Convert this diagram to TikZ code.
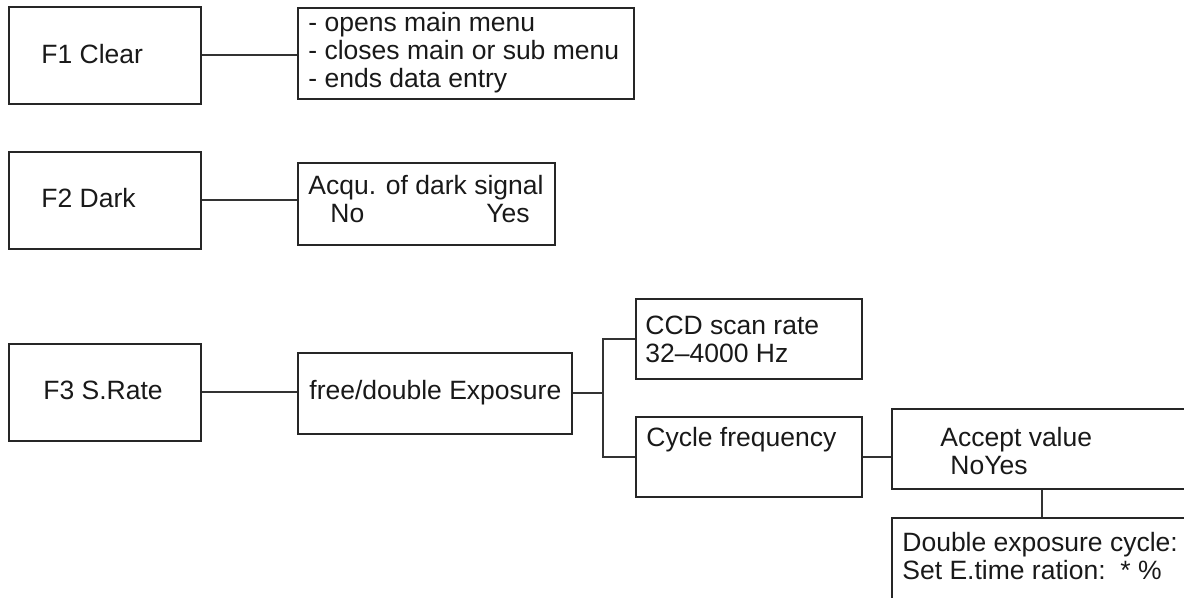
\documentclass[tikz,border=0pt]{standalone}
\usepackage{fontspec}
\setmainfont{Liberation Sans}
\begin{document}
\begin{tikzpicture}[x=0.5pt,y=-0.5pt,
  box/.style={draw=black!85, line width=1pt, inner sep=0pt, anchor=north west},
  % multi-line labels are placed by the baseline of their last line
  lbl/.style={inner sep=0pt, anchor=base west, align=left, text=black!90,
    font=\fontsize{13.25}{14}\selectfont},
  link/.style={draw=black!80, line width=1pt}]
\useasboundingbox (0,0) rectangle (1184,598);
\clip (0,0) rectangle (1184,598);

% function keys
\node[box, minimum width=96pt, minimum height=48.5pt] (f1) at (8,6) {};
\node[box, minimum width=96pt, minimum height=48.5pt] (f2) at (8,151) {};
\node[box, minimum width=96pt, minimum height=48.5pt] (f3) at (8,343) {};
\node[lbl] (f1t) at (41,64) {F1 Clear};
\node[lbl] (f2t) at (41,208) {F2 Dark};
\node[lbl] (f3t) at (43,400) {F3 S.Rate};

% F1 description
\node[box, minimum width=168pt, minimum height=45.5pt] (d1) at (297,7) {};
\node[lbl] (d1t) at (308,88) {- opens main menu\\- closes main or sub menu\\- ends data entry};

% F2 description
\node[box, minimum width=128.5pt, minimum height=41pt] (d2) at (297,162) {};
\node[lbl] (d2t) at (308,223) {Acqu. of dark signal\\\hspace*{11pt}No\hspace{61pt}Yes};

% F3 chain
\node[box, minimum width=137pt, minimum height=40.5pt] (fd) at (297,352) {};
\node[lbl] (fdt) at (309,400) {free/double Exposure};
\node[box, minimum width=113pt, minimum height=40pt] (ccd) at (635,298) {};
\node[lbl] (ccdt) at (645,363) {CCD scan rate\\32--4000 Hz};
\node[box, minimum width=113pt, minimum height=40pt] (cyc) at (635,416) {};
\node[lbl] (cyct) at (646,447) {Cycle frequency};
\node[box, minimum width=160pt, minimum height=40pt] (acc) at (891,408) {};
\node[lbl] (acct) at (940,475) {Accept value\\\hspace*{5pt}NoYes};
\node[box, minimum width=160pt, minimum height=50pt] (dbl) at (891,517) {};
\node[lbl] (dblt) at (902,580) {Double exposure cycle:\\Set E.time ration:\ \ * \%};

% connectors
\coordinate (br) at (603,392);
\coordinate (lk) at (1042,500);
\draw[link] (f1.east) -- (f1.east -| d1.west);
\draw[link] (f2.east) -- (f2.east -| d2.west);
\draw[link] (f3.east) -- (f3.east -| fd.west);
\draw[link] (fd.east) -- (fd.east -| br);
\draw[link] (ccd.west) -| (br) |- (cyc.west);
\draw[link] (cyc.east) -- (cyc.east -| acc.west);
\draw[link] (acc.south -| lk) -- (dbl.north -| lk);
\end{tikzpicture}
\end{document}
